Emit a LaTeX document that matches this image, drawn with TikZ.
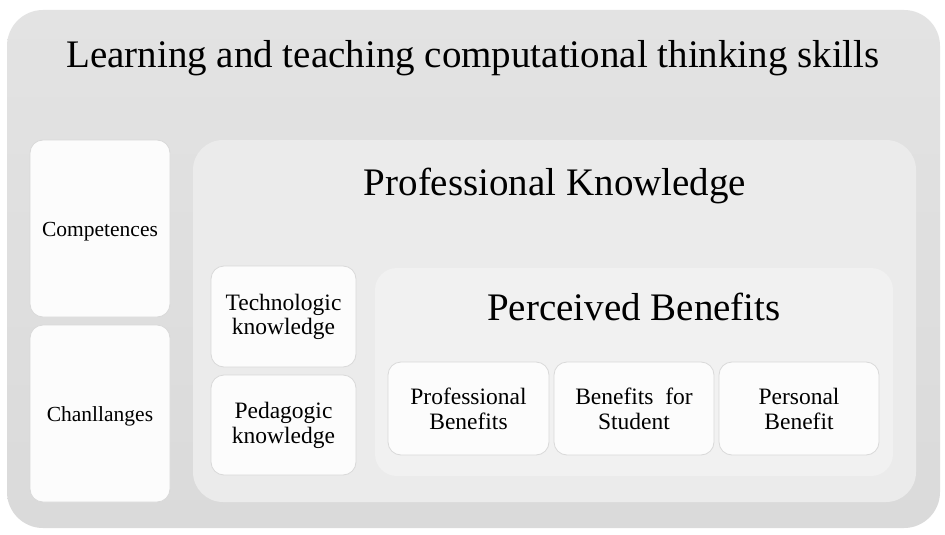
\documentclass[tikz,border=0pt]{standalone}
\usepackage{fontspec}
\setmainfont{Liberation Serif}
\begin{document}
\begin{tikzpicture}[x=1pt,y=-1pt,
  outerbox/.style={draw=none, top color=outertop, bottom color=outerbot, rounded corners=36pt},
  midbox/.style={draw=none, fill=midgray, rounded corners=30pt},
  innerbox/.style={draw=none, fill=innergray, rounded corners=22pt},
  leaf/.style={draw=leafline, line width=0.8pt, fill=leaffill, rounded corners=13pt},
  sidetext/.style={font=\fontsize{21.5}{24}\selectfont, anchor=base, text=black},
  leaftext/.style={font=\fontsize{23.5}{24.5}\selectfont, align=center, text=black},
  bigtitle/.style={font=\fontsize{39}{42}\selectfont, anchor=base, text=black},
  midtitle/.style={font=\fontsize{39}{42}\selectfont, anchor=base, text=black}]
\definecolor{outertop}{HTML}{E3E3E3}
\definecolor{outerbot}{HTML}{DADADA}
\definecolor{midgray}{HTML}{EBEBEB}
\definecolor{innergray}{HTML}{F1F1F1}
\definecolor{leafline}{HTML}{D9D9D9}
\definecolor{leaffill}{HTML}{FCFCFC}
\useasboundingbox (0,0) rectangle (945,535);
\fill[white] (0,0) rectangle (945,535);
% outer
\path[outerbox] (7,10) rectangle (940,528);
\node[bigtitle] (title) at (473,67) {Learning and teaching computational thinking skills};
% left column
\path[leaf] (30,140) rectangle (170,317);
\node[sidetext] (comp) at (100,236) {Competences};
\path[leaf] (30,325) rectangle (170,502);
\node[sidetext] (chal) at (100,421) {Chanllanges};
% professional knowledge
\path[midbox] (193,140) rectangle (916,502);
\node[midtitle] (pk) at (555,195) {Professional Knowledge};
\path[leaf] (211,266) rectangle (356,367);
\node[leaftext] (tech) at (283.5,317) {Technologic\\knowledge};
\path[leaf] (211,375) rectangle (356,475);
\node[leaftext] (ped) at (283.5,425.5) {Pedagogic\\knowledge};
% perceived benefits
\path[innerbox] (375,268) rectangle (893,476);
\node[midtitle] (pb) at (634,320) {Perceived Benefits};
\path[leaf] (388,362) rectangle (549,455);
\node[leaftext] (prof) at (468.5,409) {Professional\\Benefits};
\path[leaf] (554,362) rectangle (714,455);
\node[leaftext] (stud) at (634,409) {Benefits\ \ for\\Student};
\path[leaf] (719,362) rectangle (879,455);
\node[leaftext] (pers) at (799,409) {Personal\\Benefit};
\end{tikzpicture}
\end{document}
